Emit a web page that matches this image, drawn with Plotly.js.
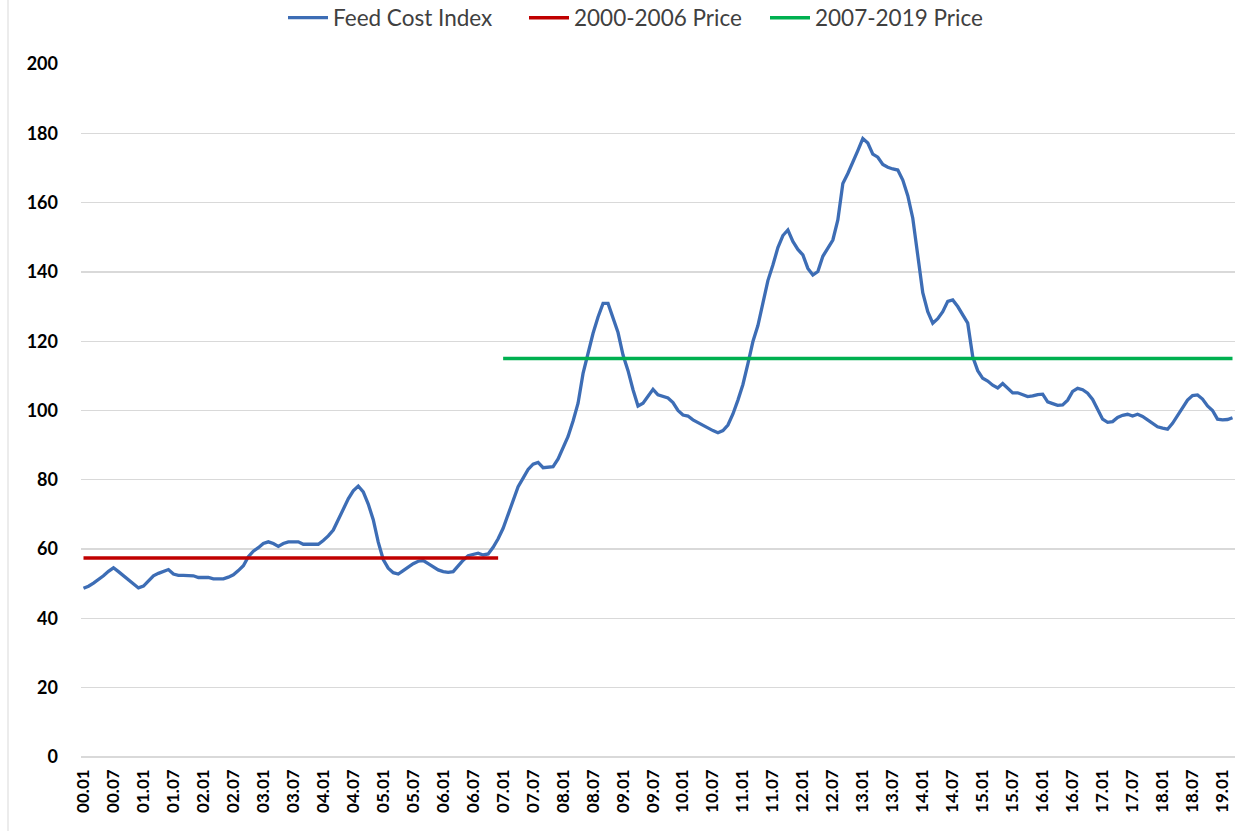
<!DOCTYPE html>
<html>
<head>
<meta charset="utf-8">
<script src="https://cdn.plot.ly/plotly-3.0.1.min.js"></script>
<style>html,body{margin:0;padding:0;background:#fff;}#chart{width:1251px;height:831px;}</style>
</head>
<body>
<div id="chart"></div>
<script>
// Monthly index, 2000.01 .. 2019.03
const feedCostIndex = [
 48.7,49.3,50.2,51.2,52.3,53.6,54.6,53.5,52.3,51.0,49.8,48.8,
 49.3,50.8,52.3,53.0,53.5,54.1,52.8,52.4,52.4,52.4,52.3,51.8,
 51.8,51.8,51.4,51.4,51.4,51.9,52.6,53.8,55.2,57.8,59.4,60.4,
 61.6,62.1,61.6,60.8,61.6,62.1,62.1,62.1,61.4,61.4,61.4,61.4,
 62.5,63.8,65.5,68.5,71.3,74.5,76.8,78.2,76.5,73.0,68.5,62.0,
 57.0,54.5,53.2,52.8,53.8,54.8,55.8,56.5,56.7,55.8,54.9,54.0,
 53.5,53.3,53.5,55.2,56.8,58.1,58.4,58.8,58.3,58.6,60.5,63.0,
 66.0,70.0,74.5,78.0,80.5,83.0,84.5,85.0,83.5,83.6,83.8,86.0,
 89.5,92.5,97.0,102.1,110.7,116.5,122.3,127.0,130.9,130.9,127.0,122.5,
 116.0,111.5,106.0,101.3,102.1,104.0,106.1,104.5,104.0,103.6,102.3,100.0,
 98.7,98.4,97.3,96.5,95.8,95.1,94.2,93.6,94.2,95.8,99.0,103.0,
 107.5,113.5,119.9,124.5,131.0,137.5,142.0,147.0,150.5,152.1,148.8,146.5,
 144.9,141.0,139.1,140.1,144.5,147.0,149.2,155.0,165.5,168.4,171.5,175.0,
 178.5,177.2,174.0,173.1,171.0,170.2,169.7,169.4,166.5,162.0,155.5,144.0,
 134.0,128.5,125.2,126.5,128.5,131.5,131.9,130.0,127.5,125.2,115.5,111.5,
 109.3,108.5,107.3,106.5,107.8,106.5,105.1,105.1,104.6,104.0,104.2,104.6,
 104.7,102.5,102.0,101.5,101.6,103.0,105.5,106.4,106.0,105.0,103.2,100.5,
 97.5,96.6,96.8,98.0,98.6,98.9,98.4,98.9,98.3,97.3,96.3,95.3,
 94.9,94.6,96.3,98.5,100.8,103.0,104.3,104.5,103.3,101.3,100.0,97.5,
 97.3,97.4,97.9
];
const price2000to2006 = 57.4;
const price2007to2019 = 115.0;
const startYear = 2000;

const months = feedCostIndex.map((v, i) => i);
const monthLabels = months.map(i => {
  const y = startYear + Math.floor(i / 12);
  const m = (i % 12) + 1;
  return String(y % 100).padStart(2, '0') + '.' + String(m).padStart(2, '0');
});
const tickIdx = months.filter(i => i % 6 === 0);
const tickLabels = tickIdx.map(i => monthLabels[i]);

const idx0006 = months.filter(i => i < 84);
const idx0719 = months.filter(i => i >= 84);

const traces = [
  { x: months, y: feedCostIndex, type: 'scatter', mode: 'lines', name: 'Feed Cost Index',
    line: { color: '#3D6DB5', width: 3.3 } },
  { x: idx0006, y: idx0006.map(() => price2000to2006), type: 'scatter', mode: 'lines', name: '2000-2006 Price',
    line: { color: '#C00000', width: 3.5 } },
  { x: idx0719, y: idx0719.map(() => price2007to2019), type: 'scatter', mode: 'lines', name: '2007-2019 Price',
    line: { color: '#00B050', width: 3.5 } }
];

const layout = {
  width: 1251, height: 831,
  margin: { l: 81, r: 16, t: 64, b: 74, autoexpand: false },
  paper_bgcolor: '#ffffff', plot_bgcolor: '#ffffff',
  showlegend: true,
  legend: { orientation: 'h', x: (283 - 81) / 1154, xanchor: 'left', yref: 'container', y: 1 - 18 / 831, yanchor: 'middle',
    entrywidth: 186, entrywidthmode: 'pixels',
    font: { family: 'Lato, sans-serif', size: 22.5, color: '#404040' }, itemwidth: 40, tracegroupgap: 0 },
  xaxis: {
    range: [-0.5, 230.5], tickvals: tickIdx, ticktext: tickLabels, tickangle: -90,
    showgrid: false, zeroline: false, showline: false, ticks: '',
    ticklabelstandoff: 8,
    tickfont: { family: 'Lato, sans-serif', size: 17, color: '#000', weight: 'bold' }
  },
  yaxis: {
    range: [0, 200], dtick: 20, tick0: 0, showgrid: true, gridcolor: '#D9D9D9', gridwidth: 1.3,
    zeroline: true, zerolinecolor: '#D9D9D9', zerolinewidth: 1.3, showline: false, ticks: '',
    ticklabelstandoff: 22,
    tickfont: { family: 'Lato, sans-serif', size: 18, color: '#000', weight: 'bold' }
  },
  shapes: [
    { type: 'line', xref: 'paper', yref: 'paper', x0: (8 - 81) / 1154, x1: (8 - 81) / 1154,
      y0: -74 / 693, y1: 1 + 64 / 693, line: { color: '#D9D9D9', width: 1 } }
  ]
};

Plotly.newPlot('chart', traces, layout, { displayModeBar: false, staticPlot: true });
</script>
</body>
</html>
